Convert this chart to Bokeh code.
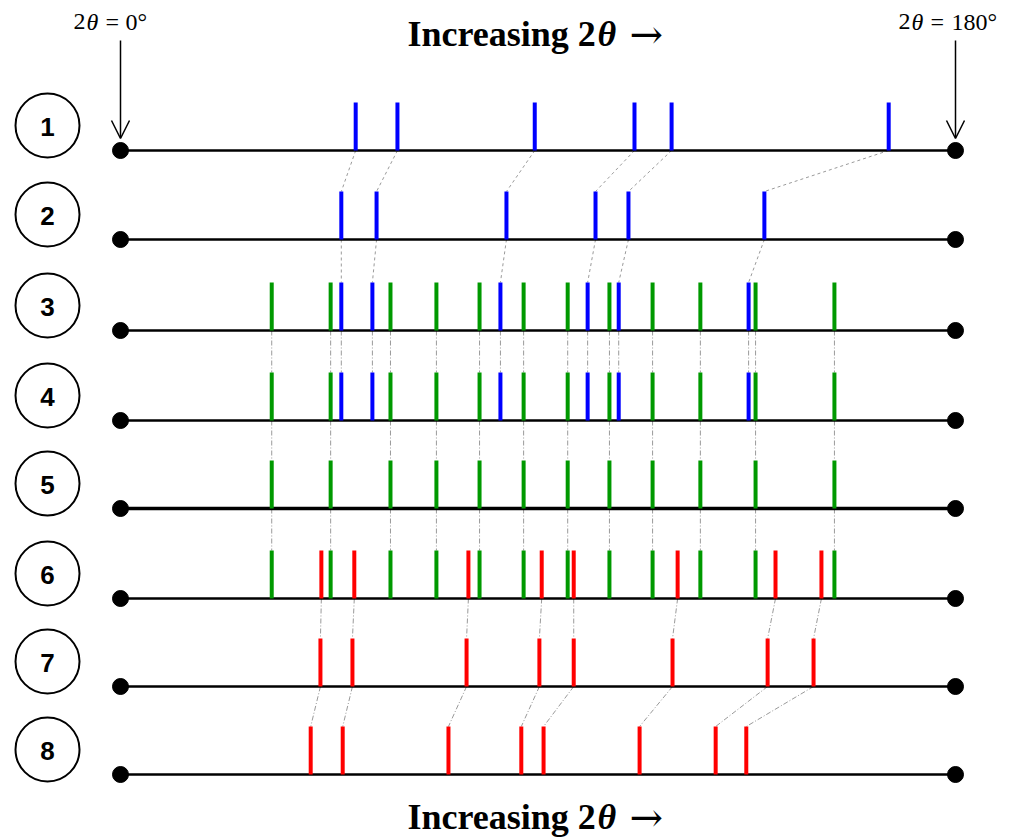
from bokeh.plotting import figure
from bokeh.models import Range1d, Label, Arrow, OpenHead
from bokeh.embed import file_html
from bokeh.resources import INLINE

# ---- data (2theta, degrees) ----
ROW_LABELS = ["1", "2", "3", "4", "5", "6", "7", "8"]
ROW1_BLUE = [50.7, 59.7, 89.3, 110.8, 118.8, 165.6]
ROW2_BLUE = [47.6, 55.2, 83.2, 102.4, 109.5, 138.8]
ROW3_BLUE = [47.6, 54.3, 81.9, 100.7, 107.4, 135.4]
GREEN = [32.6, 45.3, 58.2, 68.1, 77.4, 86.9, 96.4, 105.4, 114.7, 125.0, 136.9, 153.9]
ROW6_RED = [43.3, 50.4, 75.0, 90.8, 97.7, 120.1, 141.2, 151.1]
ROW7_RED = [43.1, 50.0, 74.6, 90.3, 97.7, 119.0, 139.5, 149.4]
ROW8_RED = [41.0, 47.9, 70.7, 86.4, 91.2, 111.9, 128.3, 134.9]
X_MIN, X_MAX = 0, 180

BLUE, GREEN_C, RED = "#0000FF", "#009900", "#FF0000"

rows = [
    [(ROW1_BLUE, BLUE)],
    [(ROW2_BLUE, BLUE)],
    [(GREEN, GREEN_C), (ROW3_BLUE, BLUE)],
    [(GREEN, GREEN_C), (ROW3_BLUE, BLUE)],
    [(GREEN, GREEN_C)],
    [(GREEN, GREEN_C), (ROW6_RED, RED)],
    [(ROW7_RED, RED)],
    [(ROW8_RED, RED)],
]
# links between consecutive rows: (upper list, lower list)
links = [
    [(ROW1_BLUE, ROW2_BLUE)],
    [(ROW2_BLUE, ROW3_BLUE)],
    [(GREEN, GREEN), (ROW3_BLUE, ROW3_BLUE)],
    [(GREEN, GREEN)],
    [(GREEN, GREEN)],
    [(ROW6_RED, ROW7_RED)],
    [(ROW7_RED, ROW8_RED)],
]

# ---- layout (screen px) ----
W, H = 1023, 839
X0PX, X1PX = 120, 955
SCALE = (X1PX - X0PX) / (X_MAX - X_MIN)


def px2deg(px):
    return X_MIN + (px - X0PX) / SCALE


BASE_Y = [150, 239, 330, 420, 508, 598, 686, 774]
TICK_H = 48

p = figure(width=W, height=H, output_backend="svg", toolbar_location=None,
           x_axis_type=None, y_axis_type=None, min_border=0,
           x_range=Range1d(px2deg(0), px2deg(W)), y_range=Range1d(H, 0))
p.grid.visible = False
p.outline_line_color = None
p.background_fill_color = "white"
p.border_fill_color = "white"

# connectors
for i, lk in enumerate(links):
    dash = "3 3" if i < 2 else "5 2 1 2"
    for up, lo in lk:
        p.segment(x0=up, y0=[BASE_Y[i]] * len(up), x1=lo,
                  y1=[BASE_Y[i + 1] - TICK_H] * len(lo),
                  line_color="#9a9a9a", line_width=1, line_dash=dash)

# baselines
for i, y in enumerate(BASE_Y):
    p.segment(x0=[X_MIN], y0=[y], x1=[X_MAX], y1=[y], line_color="black",
              line_width=3.5 if i == 4 else 2.5)

# ticks
for i, r in enumerate(rows):
    for xs, col in r:
        p.segment(x0=xs, y0=[BASE_Y[i]] * len(xs), x1=xs,
                  y1=[BASE_Y[i] - TICK_H] * len(xs),
                  line_color=col, line_width=4, line_cap="butt")

# end dots
p.scatter(x=[X_MIN] * 8 + [X_MAX] * 8, y=BASE_Y + BASE_Y, size=16,
          fill_color="black", line_color="black")

# row circles and labels
cx = px2deg(47)
cy = [y - 25 for y in BASE_Y]
p.scatter(x=[cx] * 8, y=cy, size=64, fill_color="white", line_color="black",
          line_width=2)
p.text(x=[cx] * 8, y=[c + 1 for c in cy], text=ROW_LABELS,
       text_font={"value": "Liberation Sans"}, text_font_style="bold",
       text_font_size="26px", text_align="center", text_baseline="middle",
       text_color="black")

# arrows
for xv in (X_MIN, X_MAX):
    p.add_layout(Arrow(end=OpenHead(size=18, line_width=1.5, line_color="black"),
                       x_start=xv, y_start=40, x_end=xv, y_end=138,
                       line_width=1.5, line_color="black"))


def lab(px, y, txt, size, style="normal", font="Liberation Serif"):
    p.add_layout(Label(x=px2deg(px), y=y, text=txt, text_font=font,
                       text_font_size=size, text_font_style=style,
                       text_align="left", text_baseline="alphabetic",
                       text_color="black"))


# 2theta = 0 / 180 labels
for parts in ([(73, "2", "normal"), (86, "θ", "italic"), (105, "=", "normal"), (125, "0°", "normal")],
              [(898, "2", "normal"), (911, "θ", "italic"), (930, "=", "normal"), (951, "180°", "normal")]):
    for px, t, st in parts:
        lab(px, 21, t, "24px", st)

# titles
for yb in (33, 816):
    lab(407, yb, "Increasing 2", "36px", "bold")
    lab(597, yb, "θ", "36px", "bold italic")
    lab(629, yb, "→", "40px", "normal", "DejaVu Serif")

open("out.html", "w").write(file_html(p, INLINE))
